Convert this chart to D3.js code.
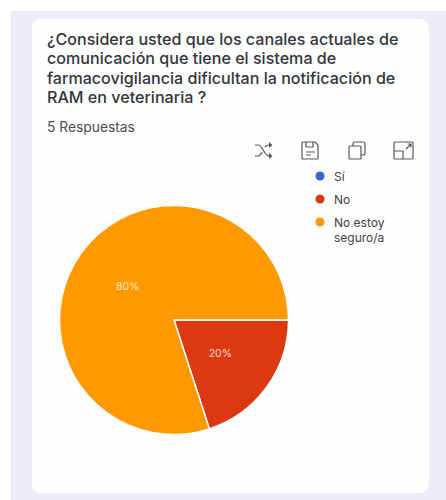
<!DOCTYPE html>
<html lang="es">
<head>
<meta charset="utf-8">
<script src="https://cdn.jsdelivr.net/npm/d3@7/dist/d3.min.js"></script>
<style>
  html, body { margin: 0; padding: 0; background: #fff; }
  svg { display: block; font-family: Inter, "Noto Sans", sans-serif; }
</style>
</head>
<body>
<svg id="chart" width="446" height="500"></svg>
<script>
const titleLines = [
  "¿Considera usted que los canales actuales de",
  "comunicación que tiene el sistema de",
  "farmacovigilancia dificultan la notificación de",
  "RAM en veterinaria ?"
];
const subtitle = "5 Respuestas";
const categories = ["Sí", "No", "No estoy seguro/a"];
const legendLines = [["Sí"], ["No"], ["No estoy", "seguro/a"]];
const values = [0, 1, 4];
const colours = ["#3366cc", "#dc3912", "#ff9900"];

const svg = d3.select("#chart");

// Page backdrop and the white card
svg.append("rect").attr("x", 11).attr("y", 11).attr("width", 435).attr("height", 489).attr("fill", "#eeecf8");
svg.append("rect").attr("x", 32).attr("y", 19).attr("width", 397).attr("height", 474).attr("rx", 9).attr("fill", "#fefefe");

// Heading
svg.append("g").selectAll("text").data(titleLines).join("text")
  .attr("x", 47).attr("y", (d, i) => 45 + i * 19.4)
  .attr("font-size", 16.1).attr("font-weight", 550).attr("fill", "#33363b")
  .text(d => d);

svg.append("text").attr("x", 47).attr("y", 131.500)
  .attr("font-size", 13.8).attr("fill", "#4a4d52").text(subtitle);

// Toolbar icons
const icons = svg.append("g").attr("fill", "none").attr("stroke", "#55585c")
  .attr("stroke-width", 1.2).attr("stroke-linejoin", "round");
icons.append("path").attr("d", "M255 145h3c5 0 6 11 11 11h2M255 156h3c2 0 3-2 4-4M265 147c1-1 2-2 4-2h2");
icons.append("path").attr("fill", "#55585c").attr("stroke", "none").attr("d", "M269 142l3.500 3-3.500 3zM269 153l3.500 3-3.500 3z");
icons.append("path").attr("d", "M303 142h12l3 3v13a1 1 0 0 1-1 1h-14a1 1 0 0 1-1-1v-15a1 1 0 0 1 1-1zM306 142v5h7v-5M306 152h9M306 155h5");
icons.append("path").attr("d", "M350 146h10a1 1 0 0 1 1 1v11a1 1 0 0 1-1 1h-10a1 1 0 0 1-1-1v-11a1 1 0 0 1 1-1zM353 146v-2a2 2 0 0 1 2-2h8a2 2 0 0 1 2 2v9a2 2 0 0 1-2 2h-2");
icons.append("path").attr("d", "M395 142h17a1 1 0 0 1 1 1v15a1 1 0 0 1-1 1h-17a1 1 0 0 1-1-1v-15a1 1 0 0 1 1-1zM394 151h9v8M406 149l5-5M407.500 144h3.500v3.500");

// Legend
const legendY = [177, 200, 223];
const legend = svg.append("g").selectAll("g").data(categories).join("g");
legend.append("circle").attr("cx", 320).attr("cy", (d, i) => legendY[i] - 1).attr("r", 4.500)
  .attr("fill", (d, i) => colours[i]);
legend.each(function (d, i) {
  d3.select(this).selectAll("text").data(legendLines[i]).join("text")
    .attr("x", 334).attr("y", (t, j) => legendY[i] + 4 + j * 14.500)
    .attr("font-size", 12).attr("fill", "#3f4246").text(t => t);
});

// Pie, clockwise from three o'clock
const centre = [174, 320], radius = 114.5;
const pie = d3.pie().value(d => d).sort(null)
  .startAngle(Math.PI / 2).endAngle(Math.PI * 2.5);
const arc = d3.arc().innerRadius(0).outerRadius(radius);
const total = d3.sum(values);
const arcs = pie(values).filter(d => d.value > 0);

const plot = svg.append("g").attr("transform", `translate(${centre})`);
plot.selectAll("path").data(arcs).join("path")
  .attr("d", arc)
  .attr("fill", d => colours[d.index])
  .attr("stroke", "#fff").attr("stroke-width", 1.5);

const labelArc = d3.arc().innerRadius(radius * 0.4).outerRadius(radius * 0.6);
plot.selectAll("text").data(arcs).join("text")
  .attr("transform", d => `translate(${labelArc.centroid(d)})`)
  .attr("text-anchor", "middle").attr("dy", "0.35em")
  .attr("font-size", 10.500).attr("fill", "#fff").attr("fill-opacity", 0.8)
  .text(d => `${Math.round(d.value / total * 100)}%`);
</script>
</body>
</html>
